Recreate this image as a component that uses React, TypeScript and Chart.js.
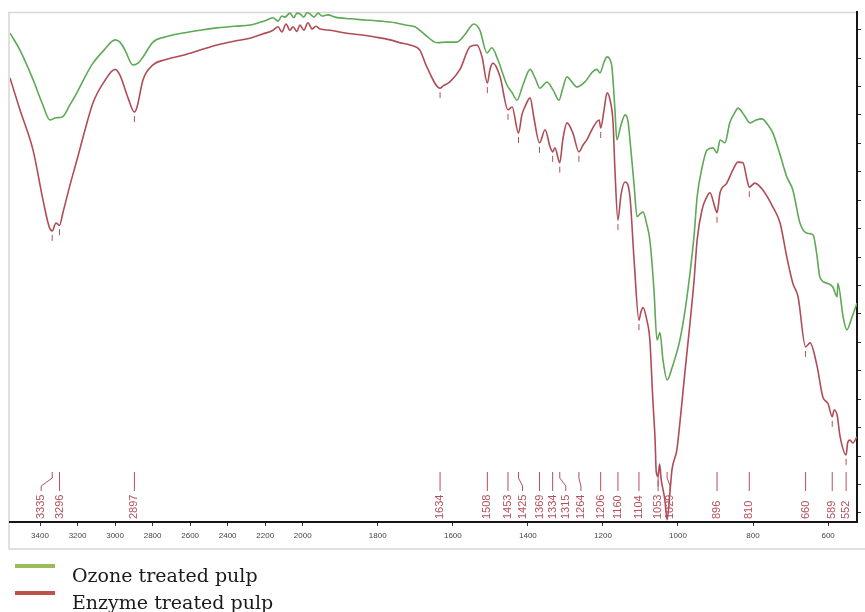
import React, { useEffect, useRef } from "react";
import { Chart, registerables } from "chart.js";

Chart.register(...registerables);

// FTIR spectra of treated pulp. The wavenumber axis is split at 2000 cm-1:
// everything above it is drawn at half the scale of the region below.
const SPLIT = 2000;
const toPos = (w: number) => (w > SPLIT ? -(w - SPLIT) / 2 : SPLIT - w);

const X_RANGE = [3560, 523];
const X_TICKS = [3400, 3200, 3000, 2800, 2600, 2400, 2200, 2000, 1800, 1600, 1400, 1200, 1000, 800, 600];
const Y_RANGE = [-1.6, 88.1];
const Y_TICKS = [0, 5, 10, 15, 20, 25, 30, 35, 40, 45, 50, 55, 60, 65, 70, 75, 80, 85];

const SERIES_NAMES = ["Ozone treated pulp", "Enzyme treated pulp"];

const OZONE_WN = [
  3560, 3507, 3437, 3389, 3347, 3315, 3283, 3240, 3203, 3160, 3118, 3059, 3000, 2974, 2947, 2905, 2878, 2851,
  2798, 2734, 2638, 2547, 2457, 2361, 2281, 2217, 2190, 2158, 2132, 2111, 2095, 2068, 2047, 2031, 2015, 1997,
  1989, 1981, 1970, 1959, 1949, 1933, 1914, 1874, 1834, 1794, 1754, 1727, 1701, 1674, 1642, 1616, 1589, 1568,
  1544, 1528, 1509, 1496, 1480, 1456, 1442, 1429, 1413, 1394, 1381, 1368, 1349, 1333, 1317, 1307, 1296, 1283,
  1269, 1248, 1227, 1216, 1208, 1197, 1189, 1181, 1176, 1168, 1163, 1152, 1141, 1133, 1128, 1117, 1109, 1101,
  1093, 1083, 1075, 1064, 1056, 1048, 1040, 1029, 1016, 995, 981, 968, 957, 949, 936, 923, 907, 896, 888, 875,
  862, 848, 840, 824, 808, 792, 776, 760, 747, 728, 710, 694, 675, 656, 640, 630, 622, 603, 587, 576, 574, 560,
  550, 536, 523,
];
const OZONE_T = [
  84.4, 81.4, 76.2, 72.1, 69.1, 69.5, 69.6, 71.8, 73.9, 76.7, 79.1, 81.4, 83.2, 82.8, 81.4, 78.8, 79.1, 80.2,
  82.8, 83.7, 84.4, 84.9, 85.3, 85.6, 85.8, 86.4, 86.7, 87.1, 86.5, 87.4, 87.2, 87.9, 87.1, 87.9, 87.8, 87.2,
  88.0, 87.8, 87.2, 87.9, 87.4, 87.6, 87.2, 86.9, 86.7, 86.5, 86.2, 85.8, 85.5, 84.1, 82.7, 82.8, 82.8, 84.1,
  86.0, 84.9, 80.9, 81.8, 79.7, 75.3, 73.9, 72.6, 75.3, 78.0, 76.5, 74.7, 75.8, 74.4, 72.6, 74.7, 76.7, 75.8,
  74.9, 75.8, 77.6, 78.0, 77.4, 79.3, 80.2, 79.7, 78.4, 70.9, 65.6, 68.2, 70.0, 68.8, 65.6, 57.7, 52.1, 52.6,
  52.9, 50.7, 48.0, 39.2, 30.4, 31.7, 26.9, 23.4, 25.5, 30.4, 35.7, 42.2, 48.9, 55.6, 60.7, 63.8, 64.2, 63.3, 65.6, 65.1,
  68.6, 70.5, 71.2, 70.0, 68.6, 69.1, 69.3, 68.2, 66.8, 63.0, 59.1, 56.8, 51.0, 49.2, 48.9, 45.4, 41.5, 40.4, 39.7, 38.0, 40.4, 34.5,
  32.2, 34.5, 36.9,
];

const ENZYME_WN = [
  3560, 3507, 3437, 3384, 3350, 3335, 3315, 3296, 3278, 3240, 3203, 3160, 3118, 3059, 3000, 2974, 2958, 2931,
  2897, 2883, 2851, 2798, 2734, 2638, 2547, 2457, 2361, 2281, 2217, 2158, 2132, 2111, 2089, 2068, 2052, 2031,
  2015, 1997, 1986, 1975, 1965, 1954, 1927, 1887, 1847, 1807, 1767, 1741, 1714, 1688, 1669, 1634, 1626, 1608,
  1581, 1554, 1536, 1522, 1508, 1501, 1493, 1474, 1453, 1442, 1425, 1416, 1408, 1394, 1384, 1369, 1354, 1341,
  1334, 1328, 1315, 1307, 1296, 1280, 1264, 1253, 1243, 1227, 1210, 1206, 1197, 1189, 1181, 1173, 1168, 1160,
  1152, 1141, 1128, 1117, 1104, 1099, 1093, 1083, 1075, 1067, 1061, 1058, 1053, 1049, 1045, 1035, 1029, 1021,
  1016, 1003, 995, 981, 968, 957, 949, 936, 923, 915, 901, 896, 888, 870, 854, 840, 827, 816, 810, 795, 774,
  747, 728, 710, 694, 680, 660, 648, 630, 614, 600, 589, 584, 576, 568, 552, 548, 542, 534, 523,
];
const ENZYME_T = [
  76.5, 70.9, 63.8, 55.0, 50.2, 49.6, 51.0, 50.6, 52.8, 57.7, 62.1, 67.4, 72.1, 75.8, 78.0, 77.0, 75.6, 73.0,
  70.5, 71.4, 76.2, 78.8, 79.7, 80.5, 81.4, 82.3, 83.0, 83.5, 84.2, 84.9, 85.5, 84.6, 86.0, 84.9, 85.5, 84.7,
  85.8, 84.9, 86.2, 85.1, 85.6, 85.1, 84.9, 84.4, 84.1, 83.7, 83.2, 82.7, 82.3, 81.4, 78.4, 74.7, 75.1, 75.8,
  78.0, 82.0, 82.3, 80.2, 75.6, 78.0, 79.1, 76.7, 70.9, 71.4, 66.8, 70.0, 71.4, 73.0, 69.5, 65.1, 67.4, 64.4,
  63.5, 64.2, 61.6, 65.6, 68.6, 66.8, 63.5, 64.7, 65.6, 67.7, 69.1, 67.7, 70.9, 73.9, 72.6, 68.6, 60.3, 51.5,
  55.9, 58.2, 55.6, 44.5, 33.9, 35.3, 36.1, 33.9, 30.4, 19.9, 12.8, 7.2, 6.4, 8.6, 6.0, 2.3, -1.2, 4.0,
  7.6, 11.1, 15.8, 25.1, 33.4, 41.0, 48.0, 53.3, 55.6, 56.3, 53.6, 52.8, 56.3, 58.0, 60.3, 61.7, 61.6, 58.6, 57.3, 58.0, 56.8,
  53.8, 51.0, 45.0, 40.4, 38.0, 29.2, 29.9, 26.0, 20.4, 19.2, 16.9, 18.1, 17.2, 13.4, 10.2, 12.3, 12.8, 12.3, 13.4,
];

// Assigned absorption bands, annotated along the bottom of the plot
const PEAKS = [3335, 3296, 2897, 1634, 1508, 1453, 1425, 1369, 1334, 1315, 1264, 1206, 1160, 1104, 1053, 1029, 896, 810, 660, 589, 552];

const OZONE_COLOR = "#5ea955";
const ENZYME_COLOR = "#b04c57";
const OZONE_KEY = "#9bbb59";
const ENZYME_KEY = "#c0504d";
const PEAK_COLOR = "#b4505b";

// sideways shift of crowded band labels, in px
const LABEL_SHIFT: Record<number, number> = { 3335: -11, 1425: 4, 1315: 6, 1264: 2, 1029: 3 };

const W = 865;
const H = 612;

const framePlugin = {
  id: "frame",
  beforeDraw(chart: any) {
    const { ctx, chartArea } = chart;
    ctx.save();
    ctx.fillStyle = "#ffffff";
    ctx.fillRect(0, 0, chart.width, chart.height);
    ctx.strokeStyle = "#d6d6d6";
    ctx.lineWidth = 1.5;
    ctx.beginPath();
    ctx.moveTo(8, chartArea.top + 0.5);
    ctx.lineTo(chartArea.right, chartArea.top + 0.5);
    ctx.moveTo(9, chartArea.top);
    ctx.lineTo(9, chartArea.bottom + 27);
    ctx.lineTo(chart.width, chartArea.bottom + 27);
    ctx.stroke();
    ctx.restore();
  },
};

const bandPlugin = {
  id: "bands",
  afterDatasetsDraw(chart: any) {
    const { ctx, chartArea } = chart;
    const xs = chart.scales.x;
    const ys = chart.scales.y;
    const base = chartArea.bottom;
    ctx.save();
    ctx.strokeStyle = PEAK_COLOR;
    ctx.fillStyle = PEAK_COLOR;
    ctx.lineWidth = 1;
    ctx.font = '11px "Liberation Sans", Arial, sans-serif';
    for (const w of PEAKS) {
      const px = xs.getPixelForValue(toPos(w));
      const tx = px + (LABEL_SHIFT[w] || 0);
      // leader line
      ctx.beginPath();
      ctx.moveTo(px, base - 50);
      ctx.lineTo(px, base - 44);
      ctx.lineTo(tx, base - 36);
      ctx.lineTo(tx, base - 31);
      ctx.stroke();
      // rotated wavenumber
      ctx.save();
      ctx.translate(tx, base - 3);
      ctx.rotate(-Math.PI / 2);
      ctx.textAlign = "left";
      ctx.textBaseline = "middle";
      ctx.fillText(String(w), 0, 0);
      ctx.restore();
      // tick under the band on the enzyme trace
      const i = ENZYME_WN.indexOf(w);
      if (i >= 0) {
        const py = ys.getPixelForValue(ENZYME_T[i]);
        const y0 = py + 4;
        const y1 = Math.min(py + 10, base - 1);
        if (y1 > y0) {
          ctx.beginPath();
          ctx.moveTo(px, y0);
          ctx.lineTo(px, y1);
          ctx.stroke();
        }
      }
    }
    ctx.restore();
  },
  afterDraw(chart: any) {
    const { ctx } = chart;
    const keys = [OZONE_KEY, ENZYME_KEY];
    ctx.save();
    ctx.font = '19px "DejaVu Serif", serif';
    ctx.textBaseline = "alphabetic";
    ctx.textAlign = "left";
    SERIES_NAMES.forEach((name, k) => {
      const y = 566 + k * 27;
      ctx.strokeStyle = keys[k];
      ctx.lineWidth = 4;
      ctx.beginPath();
      ctx.moveTo(15, y);
      ctx.lineTo(55, y);
      ctx.stroke();
      ctx.fillStyle = "#1a1a1a";
      ctx.fillText(name, 72, y + 16);
    });
    ctx.restore();
  },
};

export default function App() {
  const ref = useRef<HTMLCanvasElement>(null);

  useEffect(() => {
    const canvas = ref.current;
    if (!canvas) return;
    const chart = new Chart(canvas, {
      type: "line",
      data: {
        datasets: [
          {
            label: SERIES_NAMES[0],
            data: OZONE_WN.map((w, i) => ({ x: toPos(w), y: OZONE_T[i] })),
            borderColor: OZONE_COLOR,
            borderWidth: 1.6,
            pointRadius: 0,
            fill: false,
            cubicInterpolationMode: "monotone",
          },
          {
            label: SERIES_NAMES[1],
            data: ENZYME_WN.map((w, i) => ({ x: toPos(w), y: ENZYME_T[i] })),
            borderColor: ENZYME_COLOR,
            borderWidth: 1.6,
            pointRadius: 0,
            fill: false,
            cubicInterpolationMode: "monotone",
          },
        ],
      },
      options: {
        responsive: false,
        animation: false,
        devicePixelRatio: 1,
        layout: { padding: { left: 10, top: 12, right: 0, bottom: 0 } },
        plugins: { legend: { display: false }, tooltip: { enabled: false } },
        scales: {
          x: {
            type: "linear",
            position: "bottom",
            min: toPos(X_RANGE[0]),
            max: toPos(X_RANGE[1]),
            afterBuildTicks: (scale: any) => {
              scale.ticks = X_TICKS.map((w) => ({ value: toPos(w) }));
            },
            afterFit: (scale: any) => {
              scale.height = 90;
            },
            ticks: {
              autoSkip: false,
              maxRotation: 0,
              padding: 5,
              color: "#444",
              font: { family: '"Liberation Sans", Arial, sans-serif', size: 8 },
              callback: (value: any) => {
                const w = X_TICKS.find((t) => toPos(t) === value);
                return w === undefined ? "" : String(w);
              },
            },
            grid: { display: true, drawOnChartArea: false, drawTicks: true, tickLength: 4, color: "#333" },
            border: { display: true, color: "#151515", width: 2 },
          },
          y: {
            type: "linear",
            position: "right",
            min: Y_RANGE[0],
            max: Y_RANGE[1],
            afterBuildTicks: (scale: any) => {
              scale.ticks = Y_TICKS.map((v) => ({ value: v }));
            },
            afterFit: (scale: any) => {
              scale.width = 8;
            },
            ticks: { display: false },
            grid: { display: true, drawOnChartArea: false, drawTicks: true, tickLength: 4, color: "#333" },
            border: { display: true, color: "#151515", width: 2 },
          },
        },
      },
      plugins: [framePlugin, bandPlugin],
    } as any);
    return () => chart.destroy();
  }, []);

  return (
    <div style={{ position: "fixed", left: 0, top: 0, width: W, height: H, background: "#fff" }}>
      <canvas ref={ref} width={W} height={H} style={{ display: "block", width: W, height: H }} />
    </div>
  );
}
